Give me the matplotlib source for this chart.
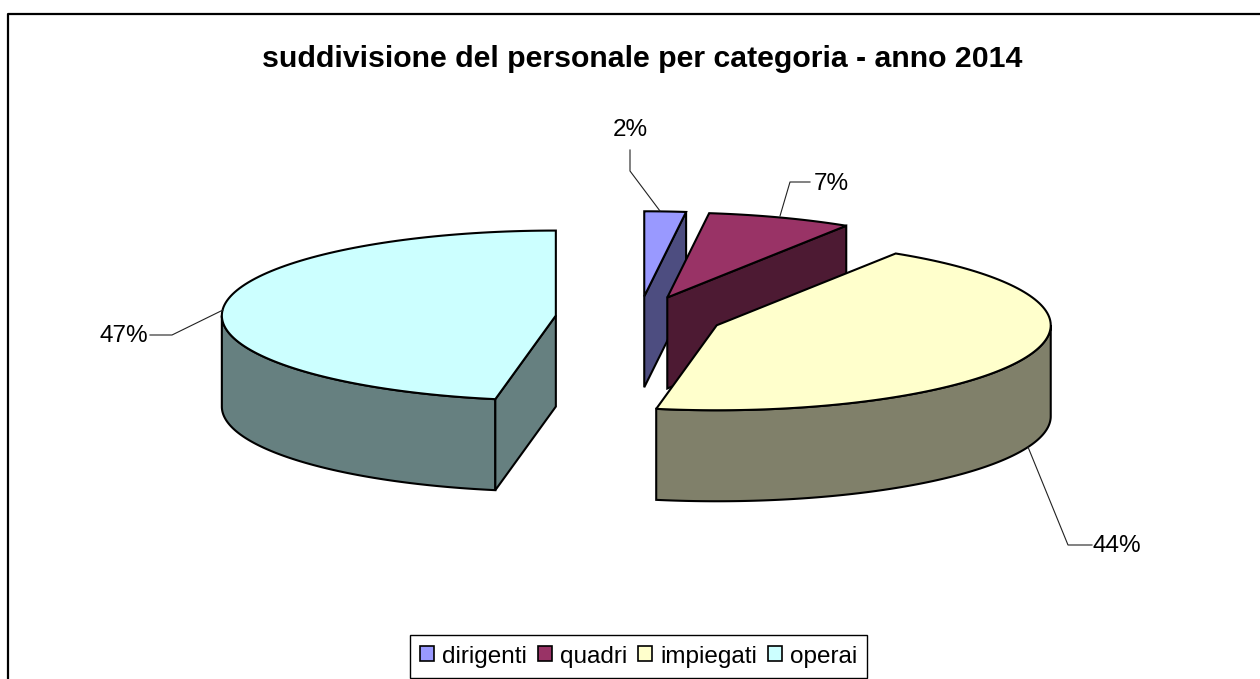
import numpy as np
import matplotlib
matplotlib.use("Agg")
import matplotlib.pyplot as plt
from matplotlib.patches import Patch, Polygon

plt.rcParams['font.family'] = ['Liberation Sans', 'DejaVu Sans']

# data
categories = ['dirigenti', 'quadri', 'impiegati', 'operai']
values = [2, 7, 43.9, 47.1]
top_colors = ['#9999FF', '#993366', '#FFFFCC', '#CCFFFF']
side_colors = ['#4D4D80', '#4D1A33', '#80806A', '#668080']

# label text position and the elbow of its leader, in pixels
label_pos = [(630, 130), (831, 184), (1117, 546), (124, 336)]
leader_start = [(630, 150), (810, 182), (1092, 545), (150, 335)]
leader_elbow = [(630, 171), (790, 182), (1068, 545), (172, 335)]
leader_end = [(660, 211), (780, 216), (1028, 447), (223, 310)]

# pie geometry, in pixels
cx, cy = 639, 317.5
rx, ry = 334, 85
depth = 91
explode = 0.25
edge = '#000000'


def arc(x0, y0, a0, a1, dy=0):
    # angles in degrees, clockwise from 12 o'clock
    t = np.radians(np.linspace(a0, a1, 120))
    return np.column_stack([x0 + rx * np.sin(t), y0 - ry * np.cos(t) + dy])


fig = plt.figure(figsize=(12.6, 6.79), dpi=100)
ax = fig.add_axes([0, 0, 1, 1])
ax.set_xlim(0, 1260)
ax.set_ylim(679, 0)
ax.axis('off')

# chart frame, only top and left are inside the picture
ax.plot([8, 8, 1260], [679, 14, 14], color='black', lw=1.6, zorder=1)

fractions = np.array(values) / sum(values)
starts = np.concatenate([[0], np.cumsum(fractions)[:-1]]) * 360
ends = np.cumsum(fractions) * 360

z = 2
for i in range(len(values)):
    a0, a1 = starts[i], ends[i]
    mid = np.radians((a0 + a1) / 2)
    x0 = cx + explode * rx * np.sin(mid)
    y0 = cy - explode * ry * np.cos(mid)

    # outer wall, front half only
    w0, w1 = max(a0, 90), min(a1, 270)
    if w0 < w1:
        top = arc(x0, y0, w0, w1)
        bottom = arc(x0, y0, w0, w1, depth)
        ax.add_patch(Polygon(np.vstack([top, bottom[::-1]]), fc=side_colors[i],
                             ec=edge, lw=1.5, zorder=z))

    # cut faces that look towards the viewer
    for a, visible in [(a0, np.sin(np.radians(a0)) < -1e-6),
                       (a1, np.sin(np.radians(a1)) > 1e-6)]:
        if visible:
            p = arc(x0, y0, a, a)[0]
            face = [(x0, y0), p, (p[0], p[1] + depth), (x0, y0 + depth)]
            ax.add_patch(Polygon(face, fc=side_colors[i], ec=edge, lw=1.5, zorder=z))

    # top of the slice
    outline = np.vstack([[(x0, y0)], arc(x0, y0, a0, a1)])
    ax.add_patch(Polygon(outline, fc=top_colors[i], ec=edge, lw=1.5, zorder=z + 1))
    z += 2

# percentage labels with leaders
for i, v in enumerate(values):
    xs = [leader_start[i][0], leader_elbow[i][0], leader_end[i][0]]
    ys = [leader_start[i][1], leader_elbow[i][1], leader_end[i][1]]
    ax.plot(xs, ys, color='#222222', lw=0.8, zorder=z)
    ax.text(label_pos[i][0], label_pos[i][1], f'{v:.0f}%', fontsize=17.5, color='black',
            ha='center', va='center', zorder=z)

ax.text(642, 59, 'suddivisione del personale per categoria - anno 2014', fontsize=21.75,
        fontweight='bold', ha='center', va='center', color='black')

handles = [Patch(fc=c, ec='black', lw=1.2) for c in top_colors]
leg = ax.legend(handles, categories, ncol=4, loc='center', fontsize=17.5,
                bbox_to_anchor=(638.5 / 1260, 1 - 656.5 / 679), frameon=True, fancybox=False,
                edgecolor='black', framealpha=1, handlelength=0.58, handleheight=0.58,
                handletextpad=0.33, columnspacing=0.45, borderpad=0.42, borderaxespad=0)
leg.get_frame().set_linewidth(1.0)

fig.savefig('out.png', dpi=100, facecolor='white')
